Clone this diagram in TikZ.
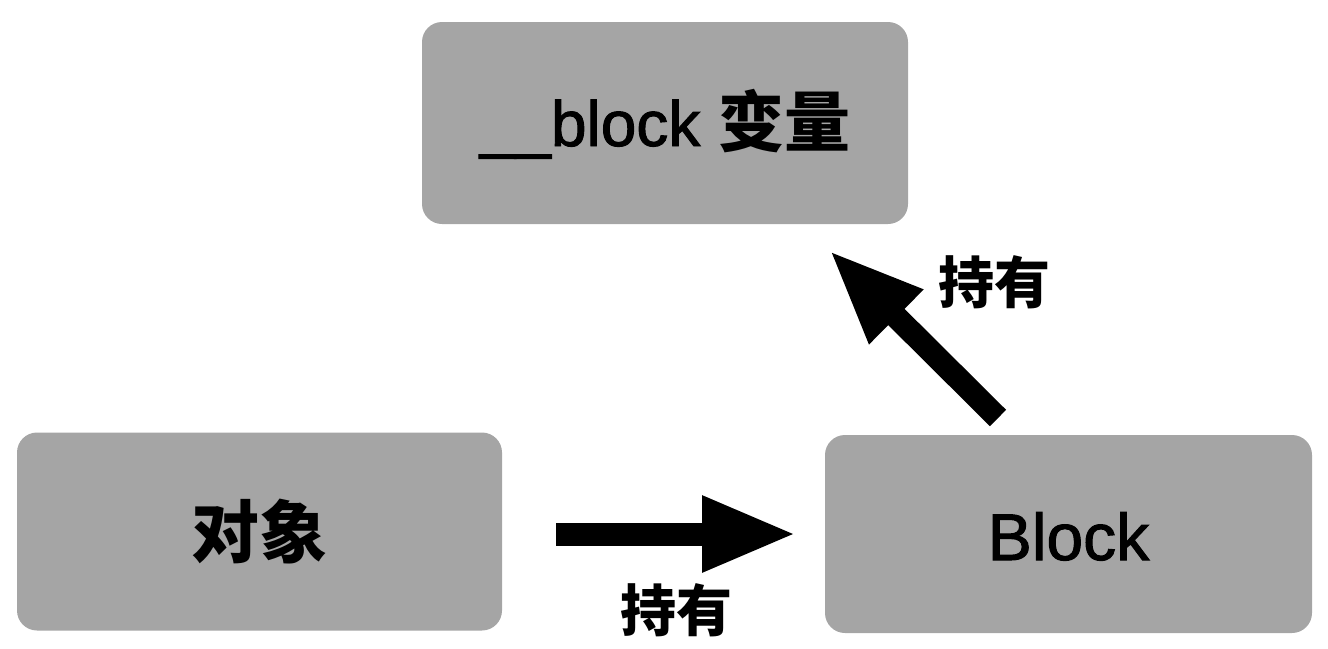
\documentclass[tikz,border=0pt]{standalone}
\usepackage{fontspec}
\setmainfont{Liberation Sans}[FakeBold=1.5]
\newfontfamily\cjk{Noto Sans CJK SC}
\usetikzlibrary{arrows.meta}
\definecolor{boxgray}{RGB}{165,165,165}
\tikzset{
  box/.style={fill=boxgray, rounded corners=20pt, inner sep=0pt, text depth=0pt, align=center},
  holdarrow/.style={line width=23pt, -{Triangle[length=95pt,width=70pt]}},
  holdlabel/.style={font=\cjk\bfseries\fontsize{56}{56}\selectfont, inner sep=0pt}
}
\begin{document}
\begin{tikzpicture}[x=1pt,y=-1pt]
\useasboundingbox (0,0) rectangle (1328,648);
\node[box, minimum width=486pt, minimum height=202pt, text height=46pt, font=\fontsize{64}{64}\selectfont] (var) at (665,123) {\_\_block {\cjk\bfseries\fontsize{66}{66}\selectfont 变量}};
\node[box, minimum width=485pt, minimum height=198pt, text height=52pt, font=\cjk\bfseries\fontsize{68}{68}\selectfont] (obj) at (259.5,531.5) {对象};
\node[box, minimum width=487pt, minimum height=198pt, text height=52pt, font=\fontsize{66}{66}\selectfont] (blk) at (1068.5,534) {Block};
\coordinate (a1s) at (556,534);
\coordinate (a1e) at (797,534);
\coordinate (a2s) at (998,418);
\coordinate (a2e) at (829,250);
\draw[holdarrow] (a1s) -- (a1e);
\draw[holdarrow] (a2s) -- (a2e);
\node[holdlabel] (l1) at (676,610) {持有};
\node[holdlabel] (l2) at (994,282) {持有};
\end{tikzpicture}
\end{document}
